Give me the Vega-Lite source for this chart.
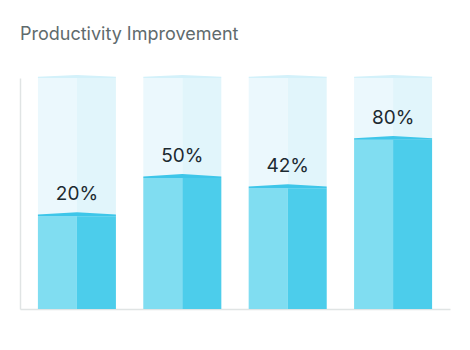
{
  "$schema": "https://vega.github.io/schema/vega-lite/v6.json",
  "autosize": "none",
  "width": 430,
  "height": 231,
  "padding": {"left": 20, "top": 78, "right": 20, "bottom": 41},
  "background": "white",
  "title": {
    "text": "Productivity Improvement",
    "anchor": "start",
    "frame": "group",
    "font": "Inter",
    "fontSize": 18,
    "fontWeight": "normal",
    "color": "#5f6b6d",
    "offset": 31
  },
  "config": {
    "view": {"stroke": null},
    "axis": {"domainColor": "#e0e4e4", "domainWidth": 1.5, "ticks": false, "labels": false, "grid": false, "title": null}
  },
  "data": {
    "values": [
      {"bar": "A", "value": 20, "label": "20%"},
      {"bar": "B", "value": 50, "label": "50%"},
      {"bar": "C", "value": 42, "label": "42%"},
      {"bar": "D", "value": 80, "label": "80%"}
    ]
  },
  "encoding": {
    "x": {"field": "bar", "type": "nominal", "sort": null, "scale": {"paddingInner": 0, "paddingOuter": 0.04}, "axis": {"domain": true}}
  },
  "layer": [
    {
      "mark": {"type": "bar", "color": "#ebf8fd", "width": {"band": 0.37}, "xOffset": -19.5},
      "encoding": {
        "y": {"datum": 128.6, "type": "quantitative", "scale": {"domain": [-53, 128.6], "nice": false, "zero": false}, "axis": {"domain": true}},
        "y2": {"datum": -53}
      }
    },
    {
      "mark": {"type": "bar", "color": "#e1f5fb", "width": {"band": 0.37}, "xOffset": 19.5},
      "encoding": {
        "y": {"datum": 128.6, "type": "quantitative"},
        "y2": {"datum": -53}
      }
    },
    {
      "mark": {"type": "point", "filled": true, "opacity": 1, "color": "#d3f1fa", "size": 6084, "shape": "M -1 -0.03 L 0 -0.08 L 1 -0.03 L 1 0 L -1 0 Z"},
      "encoding": {
        "y": {"datum": 128.6, "type": "quantitative"}
      }
    },
    {
      "mark": {"type": "bar", "color": "#80ddf1", "width": {"band": 0.37}, "xOffset": -19.5},
      "encoding": {
        "y": {"field": "value", "type": "quantitative"},
        "y2": {"datum": -53}
      }
    },
    {
      "mark": {"type": "bar", "color": "#4ccdeb", "width": {"band": 0.37}, "xOffset": 19.5},
      "encoding": {
        "y": {"field": "value", "type": "quantitative"},
        "y2": {"datum": -53}
      }
    },
    {
      "mark": {"type": "point", "filled": true, "opacity": 1, "color": "#3ec6e9", "size": 6084, "shape": "M -1 -0.04 L 0 -0.1 L 1 -0.04 L 1 0 L -1 0 Z"},
      "encoding": {
        "y": {"field": "value", "type": "quantitative"}
      }
    },
    {
      "mark": {"type": "text", "font": "Inter", "fontSize": 19, "color": "#1c2a31", "dy": -22, "baseline": "middle"},
      "encoding": {
        "y": {"field": "value", "type": "quantitative"},
        "text": {"field": "label", "type": "nominal"}
      }
    }
  ]
}
